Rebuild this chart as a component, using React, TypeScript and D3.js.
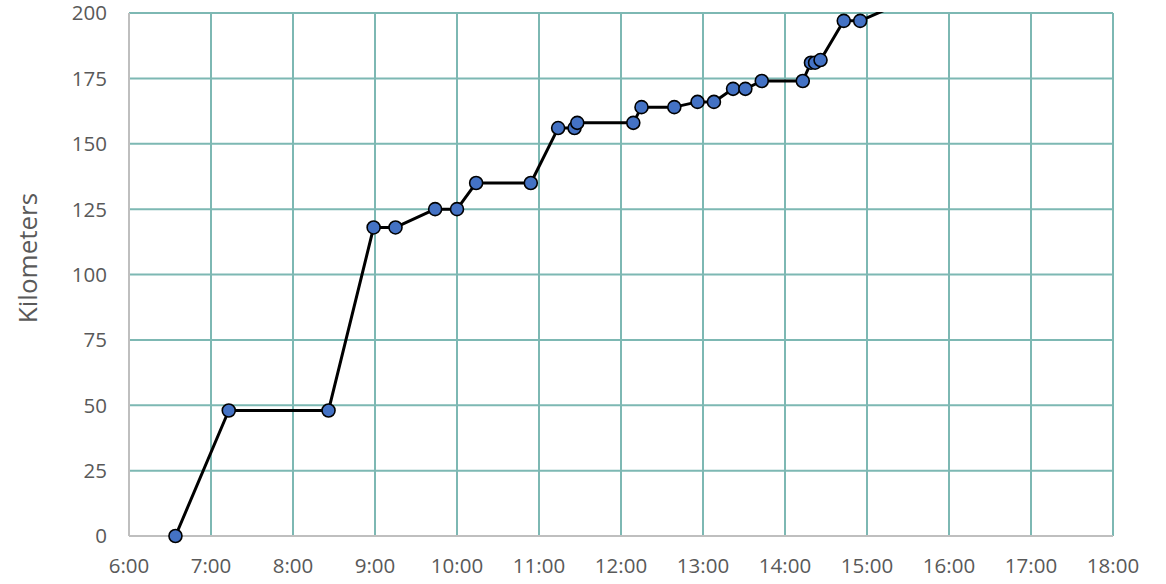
import React, { useEffect, useRef } from 'react';
import * as d3 from 'd3';

// readings: clock time and cumulative km
const times = [
  '6:34', '7:13', '8:26', '8:59', '9:15', '9:44', '10:00', '10:14', '10:54',
  '11:14', '11:26', '11:28', '12:09', '12:15', '12:39', '12:56', '13:08',
  '13:22', '13:31', '13:43', '14:13', '14:19', '14:22', '14:26', '14:43',
  '14:55', '15:30',
];
const kilometers = [
  0, 48, 48, 118, 118, 125, 125, 135, 135, 156, 156, 158, 158, 164, 164,
  166, 166, 171, 171, 174, 174, 181, 181, 182, 197, 197, 205,
];
const yTicks = [0, 25, 50, 75, 100, 125, 150, 175, 200];
const xTickHours = [6, 7, 8, 9, 10, 11, 12, 13, 14, 15, 16, 17, 18];

interface Reading {
  time: Date;
  km: number;
}

const parseTime = d3.timeParse('%H:%M');
const atHour = (h: number) => parseTime(`${h}:00`) as Date;

const App: React.FC = () => {
  const ref = useRef<SVGSVGElement | null>(null);

  useEffect(() => {
    if (!ref.current) return;
    document.body.style.margin = '0';

    const width = 1166;
    const height = 584;
    const margin = { top: 13, right: 53, bottom: 48, left: 129 };
    const innerW = width - margin.left - margin.right;
    const innerH = height - margin.top - margin.bottom;

    const data: Reading[] = times.map((t, i) => ({
      time: parseTime(t) as Date,
      km: kilometers[i],
    }));

    const svg = d3.select(ref.current);
    svg.selectAll('*').remove();
    svg.attr('width', width).attr('height', height);

    const g = svg
      .append('g')
      .attr('transform', `translate(${margin.left},${margin.top})`);

    const x = d3
      .scaleTime()
      .domain([atHour(6), atHour(18)])
      .range([0, innerW]);
    const y = d3.scaleLinear().domain([0, 200]).range([innerH, 0]);

    const font = "'Open Sans', 'Noto Sans', sans-serif";
    const grid = '#7db8b3';
    const axisGrey = '#bfbfbf';
    const labelColor = '#595959';

    // horizontal gridlines
    g.append('g')
      .selectAll('line')
      .data(yTicks.filter((d) => d > 0))
      .join('line')
      .attr('x1', 0)
      .attr('x2', innerW)
      .attr('y1', (d) => y(d))
      .attr('y2', (d) => y(d))
      .attr('stroke', grid)
      .attr('stroke-width', 2);

    // vertical gridlines
    g.append('g')
      .selectAll('line')
      .data(xTickHours.filter((h) => h > 6))
      .join('line')
      .attr('x1', (h) => x(atHour(h)))
      .attr('x2', (h) => x(atHour(h)))
      .attr('y1', 0)
      .attr('y2', innerH)
      .attr('stroke', grid)
      .attr('stroke-width', 2);

    // axis lines
    g.append('line')
      .attr('x1', 0)
      .attr('x2', 0)
      .attr('y1', 0)
      .attr('y2', innerH)
      .attr('stroke', axisGrey)
      .attr('stroke-width', 2);
    g.append('line')
      .attr('x1', 0)
      .attr('x2', innerW)
      .attr('y1', innerH)
      .attr('y2', innerH)
      .attr('stroke', axisGrey)
      .attr('stroke-width', 2);

    // tick labels
    g.append('g')
      .selectAll('text')
      .data(yTicks)
      .join('text')
      .attr('x', -22)
      .attr('y', (d) => y(d))
      .attr('dy', '0.36em')
      .attr('text-anchor', 'end')
      .attr('font-family', font)
      .attr('font-size', 20.5)
      .attr('fill', labelColor)
      .text((d) => d);

    const fmt = d3.timeFormat('%-H:%M');
    g.append('g')
      .selectAll('text')
      .data(xTickHours)
      .join('text')
      .attr('x', (h) => x(atHour(h)))
      .attr('y', innerH + 37)
      .attr('text-anchor', 'middle')
      .attr('font-family', font)
      .attr('font-size', 20.5)
      .attr('fill', labelColor)
      .text((h) => fmt(atHour(h)));

    svg
      .append('text')
      .attr('transform', 'translate(37,258) rotate(-90)')
      .attr('text-anchor', 'middle')
      .attr('font-family', font)
      .attr('font-size', 26)
      .attr('fill', labelColor)
      .text('Kilometers');

    // clip so the last segment runs off the top like the original
    svg
      .append('defs')
      .append('clipPath')
      .attr('id', 'plot-clip')
      .append('rect')
      .attr('x', -10)
      .attr('y', -1)
      .attr('width', innerW + 20)
      .attr('height', innerH + 20);

    const plot = g.append('g').attr('clip-path', 'url(#plot-clip)');

    const line = d3
      .line<Reading>()
      .x((d) => x(d.time))
      .y((d) => y(d.km));

    plot
      .append('path')
      .datum(data)
      .attr('d', line)
      .attr('fill', 'none')
      .attr('stroke', '#000')
      .attr('stroke-width', 3)
      .attr('stroke-linejoin', 'round');

    plot
      .selectAll('circle')
      .data(data.filter((d) => d.km <= 200))
      .join('circle')
      .attr('cx', (d) => x(d.time))
      .attr('cy', (d) => y(d.km))
      .attr('r', 6.5)
      .attr('fill', '#4472c4')
      .attr('stroke', '#000')
      .attr('stroke-width', 1.6);
  }, []);

  return <svg ref={ref} style={{ display: 'block' }}></svg>;
};

export default App;
